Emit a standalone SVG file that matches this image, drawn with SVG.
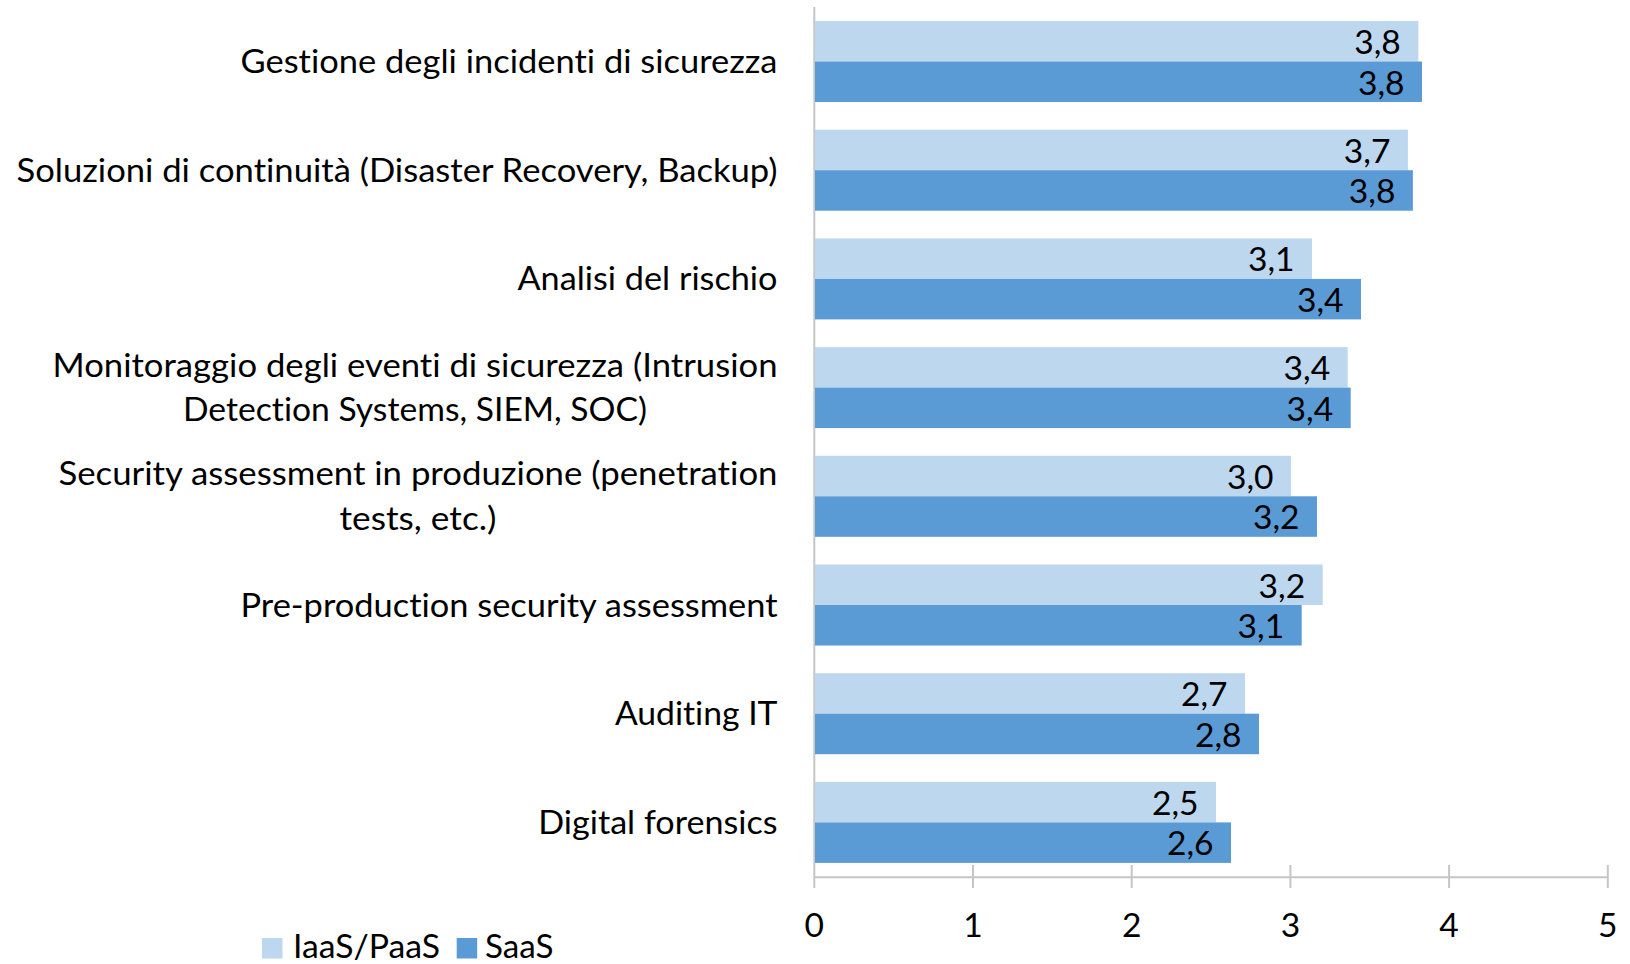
<svg xmlns="http://www.w3.org/2000/svg" width="1630" height="964" viewBox="0 0 1630 964">
<style>
text{font-family:Lato,"Open Sans","Liberation Sans",sans-serif;font-size:33.6px;fill:#000;font-variant-ligatures:none;font-feature-settings:"liga" 0,"clig" 0}
.cat{text-anchor:end}
.mid{text-anchor:middle}
.val{text-anchor:end}
.l{fill:#BDD7EE}
.d{fill:#5B9BD5}
.ax{stroke:#C6C6C6;stroke-width:2;fill:none}
</style>
<rect width="1630" height="964" fill="#fff"/>
<g id="axes">
<line class="ax" x1="814.3" y1="7" x2="814.3" y2="888"/>
<line class="ax" x1="814.3" y1="877.3" x2="1607.8" y2="877.3"/>
<line class="ax" x1="973" y1="865" x2="973" y2="888"/>
<line class="ax" x1="1131.7" y1="865" x2="1131.7" y2="888"/>
<line class="ax" x1="1290.4" y1="865" x2="1290.4" y2="888"/>
<line class="ax" x1="1449.1" y1="865" x2="1449.1" y2="888"/>
<line class="ax" x1="1607.8" y1="865" x2="1607.8" y2="888"/>
<text class="mid" x="814.3" y="936.7">0</text>
<text class="mid" x="973" y="936.7">1</text>
<text class="mid" x="1131.7" y="936.7">2</text>
<text class="mid" x="1290.4" y="936.7">3</text>
<text class="mid" x="1449.1" y="936.7">4</text>
<text class="mid" x="1607.8" y="936.7">5</text>
</g>
<g id="cat1">
<text class="cat" x="777.5" y="73" textLength="537" lengthAdjust="spacingAndGlyphs">Gestione degli incidenti di sicurezza</text>
<rect class="l" x="815" y="21" width="603.3" height="40.5"/>
<rect class="d" x="815" y="61.5" width="607" height="40.5"/>
<text class="val" x="1400.8" y="54">3,8</text>
<text class="val" x="1404.5" y="94.5">3,8</text>
</g>
<g id="cat2">
<text class="cat" x="777.5" y="181.7" textLength="761" lengthAdjust="spacingAndGlyphs">Soluzioni di continuità (Disaster Recovery, Backup)</text>
<rect class="l" x="815" y="129.7" width="592.9" height="40.5"/>
<rect class="d" x="815" y="170.2" width="597.9" height="40.5"/>
<text class="val" x="1390.4" y="162.7">3,7</text>
<text class="val" x="1395.4" y="203.2">3,8</text>
</g>
<g id="cat3">
<text class="cat" x="777.5" y="290.4" textLength="260" lengthAdjust="spacingAndGlyphs">Analisi del rischio</text>
<rect class="l" x="815" y="238.4" width="497" height="40.5"/>
<rect class="d" x="815" y="278.9" width="546" height="40.5"/>
<text class="val" x="1294.5" y="271.4">3,1</text>
<text class="val" x="1343.5" y="311.9">3,4</text>
</g>
<g id="cat4">
<text class="mid" x="415" y="376.5" textLength="725" lengthAdjust="spacingAndGlyphs">Monitoraggio degli eventi di sicurezza (Intrusion</text>
<text class="mid" x="415" y="420.8" textLength="464" lengthAdjust="spacingAndGlyphs">Detection Systems, SIEM, SOC)</text>
<rect class="l" x="815" y="347.1" width="532.7" height="40.5"/>
<rect class="d" x="815" y="387.6" width="535.7" height="40.5"/>
<text class="val" x="1330.2" y="380.1">3,4</text>
<text class="val" x="1333.2" y="420.6">3,4</text>
</g>
<g id="cat5">
<text class="mid" x="418" y="485.2" textLength="719" lengthAdjust="spacingAndGlyphs">Security assessment in produzione (penetration</text>
<text class="mid" x="418" y="529.5" textLength="157" lengthAdjust="spacingAndGlyphs">tests, etc.)</text>
<rect class="l" x="815" y="455.8" width="476" height="40.5"/>
<rect class="d" x="815" y="496.3" width="502" height="40.5"/>
<text class="val" x="1273.5" y="488.8">3,0</text>
<text class="val" x="1299.5" y="529.3">3,2</text>
</g>
<g id="cat6">
<text class="cat" x="777.5" y="616.5" textLength="537" lengthAdjust="spacingAndGlyphs">Pre-production security assessment</text>
<rect class="l" x="815" y="564.5" width="507.7" height="40.5"/>
<rect class="d" x="815" y="605" width="486.7" height="40.5"/>
<text class="val" x="1305.2" y="597.5">3,2</text>
<text class="val" x="1284.2" y="638">3,1</text>
</g>
<g id="cat7">
<text class="cat" x="777.5" y="725.2" textLength="162.6" lengthAdjust="spacingAndGlyphs">Auditing IT</text>
<rect class="l" x="815" y="673.2" width="430" height="40.5"/>
<rect class="d" x="815" y="713.7" width="444" height="40.5"/>
<text class="val" x="1227.5" y="706.2">2,7</text>
<text class="val" x="1241.5" y="746.7">2,8</text>
</g>
<g id="cat8">
<text class="cat" x="777.5" y="833.9" textLength="239.3" lengthAdjust="spacingAndGlyphs">Digital forensics</text>
<rect class="l" x="815" y="781.9" width="401" height="40.5"/>
<rect class="d" x="815" y="822.4" width="416" height="40.5"/>
<text class="val" x="1198.5" y="814.9">2,5</text>
<text class="val" x="1213.5" y="855.4">2,6</text>
</g>
<g id="legend">
<rect class="l" x="262" y="938" width="20.5" height="20.5"/>
<text x="293" y="958.3" textLength="147" lengthAdjust="spacingAndGlyphs">IaaS/PaaS</text>
<rect class="d" x="456.7" y="938" width="20.5" height="20.5"/>
<text x="485" y="958.3" textLength="68.5" lengthAdjust="spacingAndGlyphs">SaaS</text>
</g>
</svg>
